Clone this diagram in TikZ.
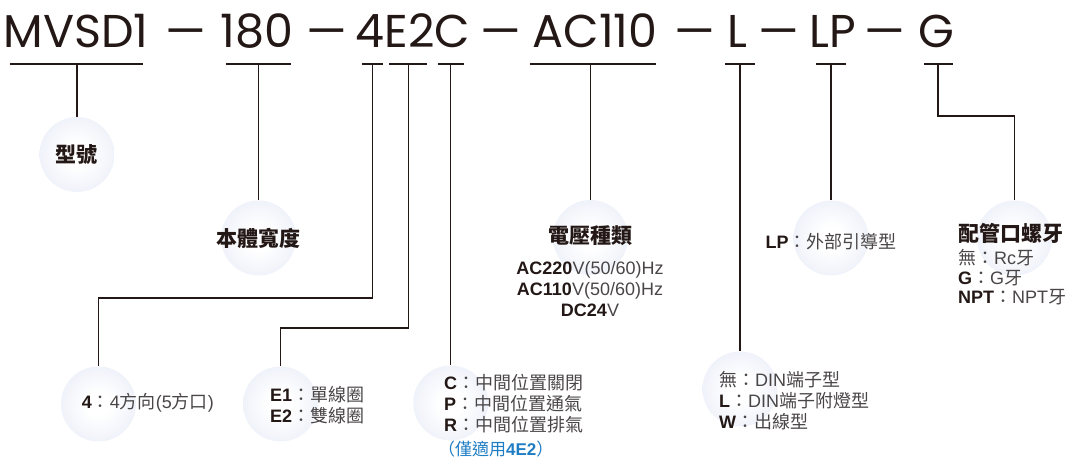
\documentclass[tikz,border=0pt]{standalone}
\usepackage{fontspec}
\setmainfont{Liberation Sans}
\newfontfamily\cjk{Noto Sans CJK TC}
\newfontfamily\codefont{Poppins}
\usetikzlibrary{positioning,calc}
\definecolor{ink}{HTML}{231815}
\definecolor{txtgray}{HTML}{4A4647}
\definecolor{ballrim}{HTML}{DAE0F3}
\definecolor{notecol}{HTML}{1F7DC4}
\pgfdeclareradialshading{ballshade}{\pgfpoint{0bp}{0bp}}{color(0bp)=(white); color(8bp)=(white); color(50bp)=(ballrim)}
\newcommand\zh[1]{{\cjk #1}}
\newcommand\key[1]{\textcolor{ink}{\bfseries #1}}
\tikzset{ball/.style={circle, minimum size=75pt, inner sep=0pt, shading=ballshade},
         lead/.style={draw=ink, line width=1.1pt},
         code/.style={font=\codefont\fontsize{46}{50}\selectfont, text=ink, anchor=base, inner sep=0pt},
         title/.style={font=\cjk\bfseries\fontsize{21}{24}\selectfont, text=ink, inner sep=0pt},
         desc/.style={font=\fontsize{18}{21}\selectfont, text=txtgray, inner sep=0pt}
        }

\begin{document}
\begin{tikzpicture}[x=1pt, y=-1pt]
\useasboundingbox (0,0) rectangle (1072,460);

%Model code
\node[code] (cModel) at (76,48) {MVSD1};
\node[code] (d1) at (186,48) {—};
\node[code] (cWidth) at (257,48) {180};
\node[code] (d2) at (327,48) {—};
\node[code] (cValve) at (413,48) {4E2C};
\node[code] (d3) at (501,48) {—};
\node[code] (cVolt) at (595,48) {AC110};
\node[code] (d4) at (695,48) {—};
\node[code] (cTerm) at (737,48) {L};
\node[code] (d5) at (779,48) {—};
\node[code] (cPilot) at (833,48) {LP};
\node[code] (d6) at (885,48) {—};
\node[code] (cThread) at (936,48) {G};

%Underlines
\draw[lead] (10,64) -- (143,64);
\draw[lead] (226,64) -- (291,64);
\draw[lead] (362,64) -- (383,64);
\draw[lead] (389,64) -- (427,64);
\draw[lead] (438,64) -- (464,64);
\draw[lead] (530,64) -- (656,64);
\draw[lead] (725,64) -- (755,64);
\draw[lead] (816,64) -- (846,64);
\draw[lead] (924,64) -- (953,64);

\coordinate (sModel) at (77,64);
\coordinate (sWidth) at (258.5,64);
\coordinate (sPos) at (372.3,64);
\coordinate (sCoil) at (408.3,64);
\coordinate (sMid) at (450.7,64);
\coordinate (sVolt) at (590.5,64);
\coordinate (sTerm) at (740,64);
\coordinate (sPilot) at (831,64);
\coordinate (sThread) at (938,64);

%Balls
\node[ball] (bModel) at (77,154.5) {};
\node[ball] (bWidth) at (258.5,238) {};
\node[ball] (bVolt) at (590.5,237.5) {};
\node[ball] (bPilot) at (831,238) {};
\node[ball] (bThread) at (1014.5,238) {};
\node[ball] (bPos) at (98.5,404) {};
\node[ball] (bCoil) at (280.5,404) {};
\node[ball] (bMid) at (450.7,403) {};
\node[ball] (bTerm) at (740,389) {};

%Leads
\draw[lead] (sModel) -- (bModel);
\draw[lead] (sWidth) -- (bWidth);
\draw[lead] (sPos) -- ++(0,234) -| (bPos);
\draw[lead] (sCoil) -- ++(0,264) -| (bCoil);
\draw[lead] (sMid) -- (bMid);
\draw[lead] (sVolt) -- (bVolt);
\draw[lead] (sTerm) -- (bTerm);
\draw[lead] (sPilot) -- (bPilot);
\draw[lead] (sThread) -- ++(0,52) -| (bThread);

%Texts
\node[title] (tModel) at (bModel) {型號};
\node[title] (tWidth) at (bWidth) {本體寬度};
\node[title] (tVolt) at (590.5,236) {電壓種類};
\node[desc, align=center] (tVoltList) at (590,289.5) {\key{AC220}V(50/60)Hz\\\key{AC110}V(50/60)Hz\\\key{DC24}V};
\node[desc] (tPilot) at (831,242) {\key{LP}\zh{：外部引導型}};
\node[title, anchor=west] (tThread) at (958,233) {配管口螺牙};
\node[desc, anchor=west, align=left, font=\fontsize{18}{19.5}\selectfont] (tThreadList) at (958,277.5) {\zh{無：}Rc\zh{牙}\\\key{G}\zh{：}G\zh{牙}\\\key{NPT}\zh{：}NPT\zh{牙}};
\node[desc, anchor=west] (tPos) at (81.7,403) {\key{4}\zh{：}4\zh{方向}(5\zh{方口})};
\node[desc, anchor=west, align=left] (tCoil) at (270,405) {\key{E1}\zh{：單線圈}\\\key{E2}\zh{：雙線圈}};
\node[desc, anchor=west, align=left] (tMid) at (444,404) {\key{C}\zh{：中間位置關閉}\\\key{P}\zh{：中間位置通氣}\\\key{R}\zh{：中間位置排氣}};
\node[desc, anchor=west, text=notecol, font=\fontsize{17}{20}\selectfont] (tOnly) at (438,449) {\zh{（僅適用}\textbf{4E2}\zh{）}};
\node[desc, anchor=west, align=left] (tTerm) at (719,400.5) {\zh{無：}DIN\zh{端子型}\\\key{L}\zh{：}DIN\zh{端子附燈型}\\\key{W}\zh{：出線型}};
\end{tikzpicture}
\end{document}
